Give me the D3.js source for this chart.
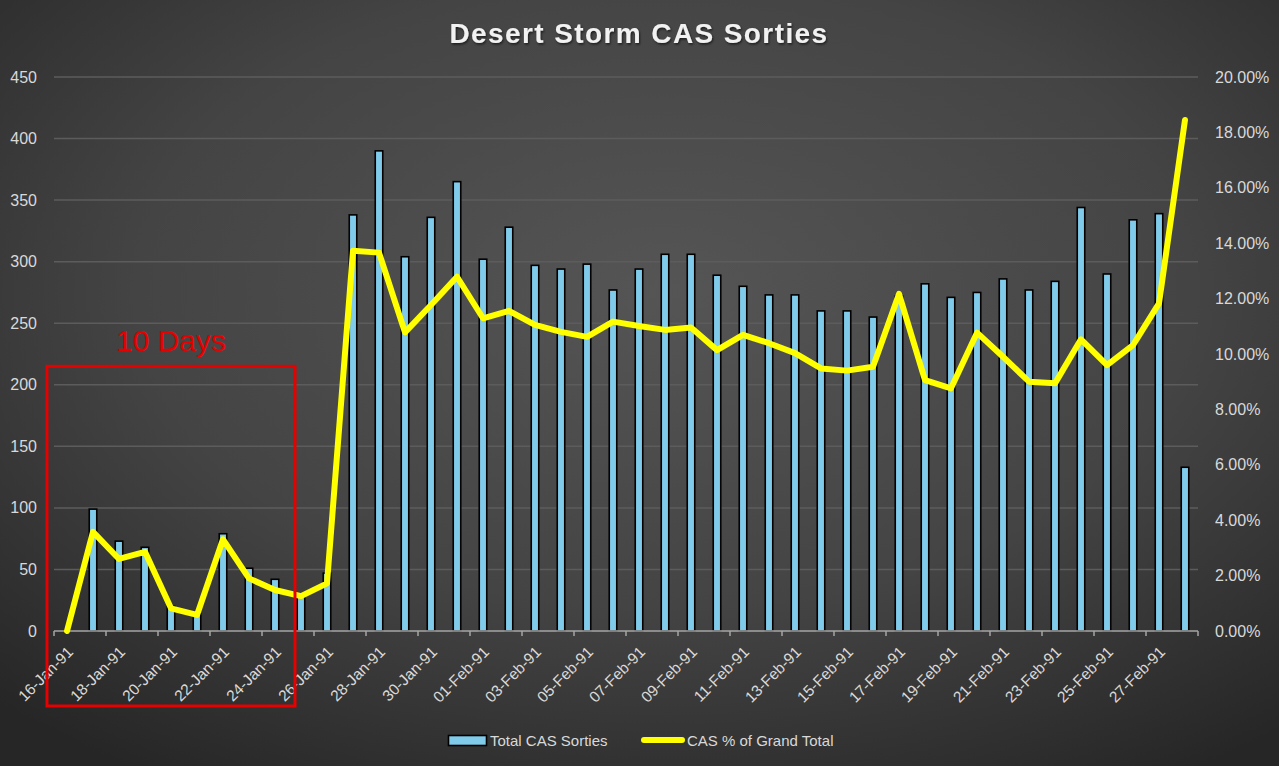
<!DOCTYPE html>
<html>
<head>
<meta charset="utf-8">
<script src="https://cdn.jsdelivr.net/npm/d3@7"></script>
<style>
  html, body { margin: 0; padding: 0; background: #333; }
  svg { display: block; }
</style>
</head>
<body>
<svg id="chart" width="1279" height="766"></svg>
<script>
// ---- DATA ----
const categories = [
  "16-Jan-91","17-Jan-91","18-Jan-91","19-Jan-91","20-Jan-91","21-Jan-91","22-Jan-91","23-Jan-91",
  "24-Jan-91","25-Jan-91","26-Jan-91","27-Jan-91","28-Jan-91","29-Jan-91","30-Jan-91","31-Jan-91",
  "01-Feb-91","02-Feb-91","03-Feb-91","04-Feb-91","05-Feb-91","06-Feb-91","07-Feb-91","08-Feb-91",
  "09-Feb-91","10-Feb-91","11-Feb-91","12-Feb-91","13-Feb-91","14-Feb-91","15-Feb-91","16-Feb-91",
  "17-Feb-91","18-Feb-91","19-Feb-91","20-Feb-91","21-Feb-91","22-Feb-91","23-Feb-91","24-Feb-91",
  "25-Feb-91","26-Feb-91","27-Feb-91","28-Feb-91"
];
const totalCasSorties = [
  0, 99, 73, 68, 20, 14, 79, 51,
  42, 30, 47, 338, 390, 304, 336, 365,
  302, 328, 297, 294, 298, 277, 294, 306,
  306, 289, 280, 273, 273, 260, 260, 255,
  272, 282, 271, 275, 286, 277, 284, 344,
  290, 334, 339, 133
];
const casPctOfGrandTotal = [
  0.00, 3.58, 2.60, 2.86, 0.82, 0.58, 3.31, 1.90,
  1.48, 1.26, 1.72, 13.73, 13.66, 10.78, 11.77, 12.79,
  11.29, 11.56, 11.05, 10.80, 10.62, 11.17, 11.01, 10.87,
  10.96, 10.14, 10.69, 10.39, 10.03, 9.48, 9.40, 9.54,
  12.17, 9.06, 8.76, 10.77, 9.90, 9.00, 8.94, 10.53,
  9.60, 10.32, 11.83, 18.45
];
const leftTicks = [0, 50, 100, 150, 200, 250, 300, 350, 400, 450];
const rightTicks = [0, 2, 4, 6, 8, 10, 12, 14, 16, 18, 20];
const titleText = "Desert Storm CAS Sorties";
const seriesNames = ["Total CAS Sorties", "CAS % of Grand Total"];
const annotationText = "10 Days";
const annotationRange = ["16-Jan-91", "24-Jan-91"];

// ---- CHART ----
const W = 1279, H = 766;
const svg = d3.select("#chart");
const defs = svg.append("defs");

const grad = defs.append("radialGradient")
  .attr("id", "bg").attr("cx", "52%").attr("cy", "38%").attr("r", "75%");
grad.append("stop").attr("offset", "0%").attr("stop-color", "#555555");
grad.append("stop").attr("offset", "55%").attr("stop-color", "#444444");
grad.append("stop").attr("offset", "100%").attr("stop-color", "#262626");

const shadow = defs.append("filter").attr("id", "tshadow")
  .attr("x", "-10%").attr("y", "-30%").attr("width", "120%").attr("height", "160%");
shadow.append("feDropShadow").attr("dx", 1).attr("dy", 1.5)
  .attr("stdDeviation", 1.2).attr("flood-color", "#000").attr("flood-opacity", 0.6);

svg.append("rect").attr("width", W).attr("height", H).attr("fill", "url(#bg)");

const plot = { left: 54, right: 1198, top: 77, bottom: 631 };

const x = d3.scaleBand().domain(categories).range([plot.left, plot.right]).padding(0);
const yL = d3.scaleLinear().domain([0, 450]).range([plot.bottom, plot.top]);
const yR = d3.scaleLinear().domain([0, 20]).range([plot.bottom, plot.top]);

const font = "'Liberation Sans', Arial, sans-serif";
const labelColor = "#d9d9d9";

// gridlines
svg.append("g").selectAll("line").data(leftTicks.filter(d => d > 0)).join("line")
  .attr("x1", plot.left).attr("x2", plot.right)
  .attr("y1", d => yL(d)).attr("y2", d => yL(d))
  .attr("stroke", "#5c5c5c").attr("stroke-width", 1.5);

// left axis labels
svg.append("g").selectAll("text").data(leftTicks).join("text")
  .attr("x", 37).attr("y", d => yL(d)).attr("dy", "0.35em")
  .attr("text-anchor", "end").attr("fill", labelColor)
  .style("font-family", font).style("font-size", "16px")
  .text(d => d3.format("d")(d));

// right axis labels
svg.append("g").selectAll("text").data(rightTicks).join("text")
  .attr("x", 1215).attr("y", d => yR(d)).attr("dy", "0.35em")
  .attr("text-anchor", "start").attr("fill", labelColor)
  .style("font-family", font).style("font-size", "16px")
  .text(d => d3.format(".2f")(d) + "%");

// bars
const barW = 7.5;
svg.append("g").selectAll("rect").data(categories.map((c, i) => ({ c, v: totalCasSorties[i] })))
  .join("rect")
  .filter(d => d.v > 0)
  .attr("x", d => x(d.c) + x.bandwidth() / 2 - barW / 2)
  .attr("y", d => yL(d.v))
  .attr("width", barW)
  .attr("height", d => yL(0) - yL(d.v))
  .attr("fill", "#80caea")
  .attr("stroke", "#000").attr("stroke-width", 1.6);

// x axis line and ticks
const axisG = svg.append("g");
axisG.append("line")
  .attr("x1", plot.left).attr("x2", plot.right)
  .attr("y1", yL(0)).attr("y2", yL(0))
  .attr("stroke", "#a6a6a6").attr("stroke-width", 1.5);
const tickPos = categories.filter((c, i) => i % 2 === 0).map(c => x(c)).concat([x.range()[1]]);
axisG.selectAll("line.tick").data(tickPos).join("line").attr("class", "tick")
  .attr("x1", d => d).attr("x2", d => d)
  .attr("y1", yL(0)).attr("y2", yL(0) + 5)
  .attr("stroke", "#a6a6a6").attr("stroke-width", 1.5);

// x labels
svg.append("g").selectAll("text").data(categories.filter((c, i) => i % 2 === 0)).join("text")
  .attr("transform", d => `translate(${x(d) + x.bandwidth() / 2 + 7},${yL(0) + 22}) rotate(-45)`)
  .attr("text-anchor", "end").attr("fill", labelColor)
  .style("font-family", font).style("font-size", "15.5px")
  .text(d => d);

// line
const lineGen = d3.line()
  .x((d, i) => x(categories[i]) + x.bandwidth() / 2)
  .y(d => yR(d));
svg.append("path").datum(casPctOfGrandTotal)
  .attr("d", lineGen)
  .attr("fill", "none").attr("stroke", "#ffff00")
  .attr("stroke-width", 6).attr("stroke-linejoin", "round").attr("stroke-linecap", "round");

// annotation box
const boxX0 = x(annotationRange[0]) - 7;
const boxX1 = x(annotationRange[1]) + x.bandwidth() + 7;
svg.append("rect")
  .attr("x", boxX0).attr("y", yL(215))
  .attr("width", boxX1 - boxX0).attr("height", 706 - yL(215))
  .attr("fill", "none").attr("stroke", "#e60000").attr("stroke-width", 3);
svg.append("text")
  .attr("x", (boxX0 + boxX1) / 2).attr("y", 351)
  .attr("text-anchor", "middle").attr("fill", "#e60000")
  .style("font-family", font).style("font-size", "30px")
  .text(annotationText);

// title
svg.append("text")
  .attr("x", 639).attr("y", 43)
  .attr("text-anchor", "middle").attr("fill", "#f2f2f2")
  .attr("filter", "url(#tshadow)")
  .style("font-family", font).style("font-size", "28px").style("font-weight", "bold")
  .style("letter-spacing", "1.4px")
  .text(titleText);

// legend
const lg = svg.append("g");
lg.append("rect").attr("x", 448.5).attr("y", 735.5).attr("width", 38).attr("height", 10)
  .attr("fill", "#80caea").attr("stroke", "#000").attr("stroke-width", 1.6);
lg.append("text").attr("x", 490).attr("y", 745.5).attr("fill", labelColor)
  .style("font-family", font).style("font-size", "15px").text(seriesNames[0]);
lg.append("line").attr("x1", 644).attr("x2", 682).attr("y1", 740).attr("y2", 740)
  .attr("stroke", "#ffff00").attr("stroke-width", 6).attr("stroke-linecap", "round");
lg.append("text").attr("x", 687).attr("y", 745.5).attr("fill", labelColor)
  .style("font-family", font).style("font-size", "15px").text(seriesNames[1]);
</script>
</body>
</html>
